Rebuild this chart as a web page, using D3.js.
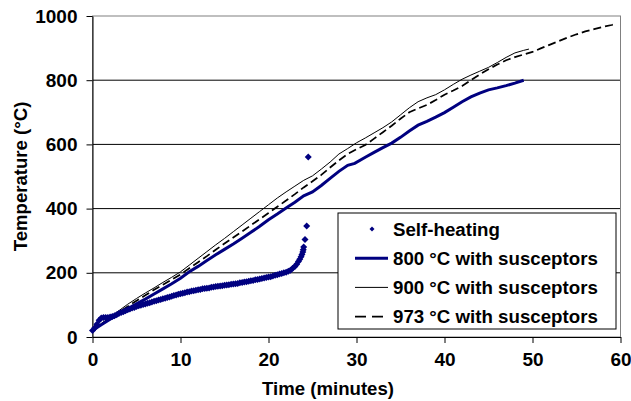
<!DOCTYPE html>
<html>
<head>
<meta charset="utf-8">
<script src="https://cdn.jsdelivr.net/npm/d3@7"></script>
<style>
  body { margin: 0; background: #fff; }
  text { font-family: "Liberation Sans", Arial, sans-serif; font-weight: bold; }
</style>
</head>
<body>
<svg width="631" height="401"></svg>
<script>
// time (minutes), temperature (°C)
var selfHeating = [
  [0,20],[0.25,28],[0.5,40],[0.75,52],[1,59],[1.25,61],[1.5,61],[1.75,61],[2,62],[2.25,64],
  [2.5,66],[2.75,69],[3,73],[3.25,76],[3.5,79],[3.75,82],[4,85],[4.25,87],[4.5,90],[4.75,92],
  [5,95],[5.25,97],[5.5,99],[5.75,101],[6,103],[6.25,105],[6.5,107],[6.75,109],[7,111],[7.25,113],
  [7.5,115],[7.75,117],[8,119],[8.25,121],[8.5,123],[8.75,125],[9,127],[9.25,129],[9.5,131],[9.75,133],
  [10,135],[10.25,136],[10.5,138],[10.75,140],[11,141],[11.25,143],[11.5,144],[11.75,146],[12,147],[12.25,148],
  [12.5,150],[12.75,151],[13,152],[13.25,153],[13.5,155],[13.75,156],[14,157],[14.25,158],[14.5,159],[14.75,160],
  [15,161],[15.25,162],[15.5,163],[15.75,164],[16,165],[16.25,166],[16.5,167],[16.75,169],[17,170],[17.25,171],
  [17.5,172],[17.75,174],[18,175],[18.25,176],[18.5,178],[18.75,179],[19,181],[19.25,182],[19.5,184],[19.75,185],
  [20,187],[20.25,188],[20.5,190],[20.75,192],[21,194],[21.25,196],[21.5,198],[21.75,200],[22,202],[22.25,205],
  [22.5,208],[22.75,214],[23,220],[23.2,227],[23.4,235],[23.55,242],[23.7,250],[23.8,257],[23.9,265],[23.95,272],
  [24,280],[24.15,304],[24.34,346],[24.52,561]
];

var susc800 = [
  [0,20],[1,38],[2,55],[3,72],[4,88],[5,103],[6,118],[7,134],[8,150],[9,166],[10,183],
  [11,203],[12,220],[13,238],[14,256],[15,273],[16,290],[17,308],[18,326],[19,345],[20,365],
  [21,383],[22,402],[23,420],[24,440],[25,452],[26,472],[27,494],[28,516],[29,535],[29.8,541],
  [31,560],[32,575],[33,590],[34,604],[35,622],[36,642],[37,660],[38,672],[39,685],[40,699],
  [41,716],[42,733],[43,748],[44,760],[45,770],[46,776],[47,783],[48,791],[49,800]
];

var susc900 = [
  [0,20],[1,42],[2,62],[3,82],[4,102],[5,120],[6,137],[7,153],[8,170],[9,186],[10,203],
  [11,224],[12,245],[13,266],[14,287],[15,307],[16,328],[17,349],[18,370],[19,391],[20,412],
  [21,433],[22,452],[23,470],[24,488],[25,502],[26,523],[27,545],[28,570],[29,587],[30,605],
  [31,620],[32,636],[33,652],[34,670],[35,692],[36,714],[37,733],[38,745],[39,755],[40,770],
  [41,787],[42,803],[43,816],[44,828],[45,840],[46,855],[47,871],[48,885],[49,893],[49.6,897]
];

var susc973 = [
  [0,20],[1,40],[2,58],[3,77],[4,95],[5,113],[6,130],[7,147],[8,163],[9,179],[10,195],
  [11,214],[12,233],[13,252],[14,272],[15,291],[16,310],[17,329],[18,348],[19,367],[20,386],
  [21,406],[22,425],[23,445],[24,466],[25,485],[26,505],[27,528],[28,550],[29,570],[30,585],
  [31,598],[32,618],[33,638],[34,658],[35,680],[36,700],[37,712],[38,723],[39,738],[40,755],
  [41,768],[42,782],[43,800],[44,818],[45,834],[46,849],[47,862],[48,872],[49,880],[50,888],
  [51,900],[52,911],[53,922],[54,933],[55,943],[56,952],[57,959],[58,966],[59,972],[59.3,974]
];

var xTicks = [0, 10, 20, 30, 40, 50, 60];
var yTicks = [0, 200, 400, 600, 800, 1000];
var legendLabels = ["Self-heating", "800 °C with susceptors", "900 °C with susceptors", "973 °C with susceptors"];

var svg = d3.select("svg"),
    margin = {top: 16, right: 10.5, bottom: 64, left: 92.5},
    w = +svg.attr("width") - margin.left - margin.right,
    h = +svg.attr("height") - margin.top - margin.bottom;

var g = svg.append("g").attr("transform", "translate(" + margin.left + "," + margin.top + ")");

var x = d3.scaleLinear().domain([0, 60]).range([0, w]);
var y = d3.scaleLinear().domain([0, 1000]).range([h, 0]);

// gridlines
g.selectAll(".grid").data(yTicks.filter(function(d) { return d > 0 && d < 1000; }))
  .enter().append("line")
  .attr("x1", 0).attr("x2", w)
  .attr("y1", function(d) { return y(d); }).attr("y2", function(d) { return y(d); })
  .attr("stroke", "#000").attr("stroke-width", 1);

// plot border
g.append("rect").attr("x", 0).attr("y", 0).attr("width", w).attr("height", h)
  .attr("fill", "none").attr("stroke", "#808080").attr("stroke-width", 1);

// axes
var xAxis = g.append("g").attr("transform", "translate(0," + h + ")")
  .call(d3.axisBottom(x).tickValues(xTicks).tickFormat(d3.format("d")).tickSize(6).tickSizeOuter(0).tickPadding(10));
var yAxis = g.append("g")
  .call(d3.axisLeft(y).tickValues(yTicks).tickFormat(d3.format("d")).tickSize(6).tickSizeOuter(0).tickPadding(9));
[xAxis, yAxis].forEach(function(a) {
  a.select(".domain").attr("stroke", "#000");
  a.selectAll(".tick line").attr("stroke", "#000");
  a.selectAll("text").attr("font-size", "19px").attr("fill", "#000")
    .attr("font-family", "'Liberation Sans', Arial, sans-serif").attr("font-weight", "bold");
});

var line = d3.line()
  .x(function(d) { return x(d[0]); })
  .y(function(d) { return y(d[1]); });

g.append("path").attr("d", line(susc900))
  .attr("fill", "none").attr("stroke", "#000").attr("stroke-width", 1);
g.append("path").attr("d", line(susc973))
  .attr("fill", "none").attr("stroke", "#000").attr("stroke-width", 1.75).attr("stroke-dasharray", "8,4");
g.append("path").attr("d", line(susc800))
  .attr("fill", "none").attr("stroke", "#000080").attr("stroke-width", 3);

function diamond(r) { return "M0," + (-r) + "L" + r + ",0L0," + r + "L" + (-r) + ",0Z"; }

g.selectAll(".pt").data(selfHeating).enter().append("path")
  .attr("d", diamond(3.5))
  .attr("transform", function(d) { return "translate(" + x(d[0]) + "," + y(d[1]) + ")"; })
  .attr("fill", "#000080");

// axis titles
svg.append("text").attr("x", 328).attr("y", 395).attr("text-anchor", "middle")
  .attr("font-size", "18.6px").text("Time (minutes)");
svg.append("text").attr("transform", "translate(27," + (margin.top + h / 2) + ") rotate(-90)")
  .attr("text-anchor", "middle").attr("font-size", "18.6px").text("Temperature (°C)");

// legend
var lg = svg.append("g").attr("transform", "translate(338,213)");
lg.append("rect").attr("width", 278).attr("height", 116)
  .attr("fill", "#fff").attr("stroke", "#000").attr("stroke-width", 1);
var rowY = function(i) { return 16 + i * 29.2; };
legendLabels.forEach(function(lab, i) {
  lg.append("text").attr("x", 55).attr("y", rowY(i)).attr("dy", "0.36em")
    .attr("font-size", "18.7px").text(lab);
});
lg.append("path").attr("d", diamond(2.5)).attr("transform", "translate(34," + rowY(0) + ")").attr("fill", "#000080");
lg.append("line").attr("x1", 17).attr("x2", 50).attr("y1", rowY(1)).attr("y2", rowY(1))
  .attr("stroke", "#000080").attr("stroke-width", 3);
lg.append("line").attr("x1", 17).attr("x2", 50).attr("y1", rowY(2)).attr("y2", rowY(2))
  .attr("stroke", "#000").attr("stroke-width", 1);
lg.append("line").attr("x1", 17).attr("x2", 50).attr("y1", rowY(3)).attr("y2", rowY(3))
  .attr("stroke", "#000").attr("stroke-width", 1.75).attr("stroke-dasharray", "11,6");
</script>
</body>
</html>
